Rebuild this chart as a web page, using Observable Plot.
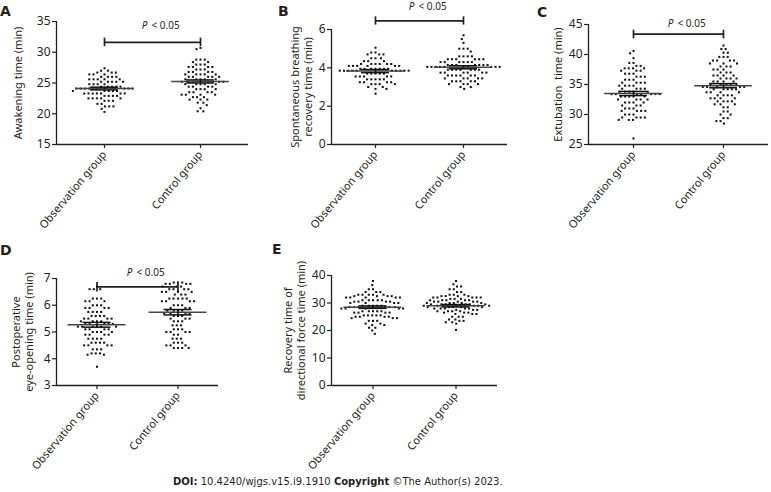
<!DOCTYPE html>
<html><head><meta charset="utf-8">
<script src="https://cdn.jsdelivr.net/npm/d3@7"></script>
<script src="https://cdn.jsdelivr.net/npm/@observablehq/plot@0.6"></script>
<style>
body{margin:0;background:#fff;}
#root{position:relative;width:771px;height:492px;overflow:hidden;background:#fff;font-family:"Noto Sans",sans-serif;}
.panel{position:absolute;}
.letter{position:absolute;font:bold 14px "DejaVu Sans",sans-serif;color:#231f20;line-height:1;}
.caption{position:absolute;font:10px "DejaVu Sans",sans-serif;color:#231f20;white-space:nowrap;}
</style></head><body><div id="root"></div>
<script>
const groups = ["Observation group", "Control group"];

// A: Awakening time (min)
const awakeningObs = [27.4, 27.0,27.0, 26.7,26.7,26.7, 26.4,26.4,26.4, 26.0,26.0,26.0,26.0, 25.6,25.6,25.6,25.6,25.6, 25.2,25.2,25.2,25.2,25.2, 24.8,24.8,24.8,24.8, 24.4,24.4,24.4,24.4,24.4, 24.1,24.1,24.1,24.1,24.1,24.1,24.1,24.1,24.1, 23.7,23.7,23.7,23.7,23.7, 23.3,23.3,23.3,23.3,23.3,23.3,23.3, 22.9,22.9,22.9,22.9, 22.5,22.5,22.5,22.5,22.5, 22.1,22.1,22.1, 21.6,21.6, 21.2,21.2,21.2, 20.8, 20.3];
const awakeningCtrl = [30.7, 30.5, 28.8,28.8,28.8, 28.4,28.4, 28.0,28.0,28.0, 27.6,27.6,27.6,27.6, 27.2,27.2,27.2, 26.8,26.8,26.8,26.8, 26.4,26.4,26.4,26.4,26.4, 26.0,26.0,26.0,26.0,26.0, 25.6,25.6,25.6,25.6,25.6, 25.2,25.2,25.2,25.2,25.2,25.2,25.2, 24.8,24.8,24.8,24.8,24.8, 24.4,24.4,24.4,24.4, 24.0,24.0,24.0,24.0, 23.5,23.5,23.5,23.5, 23.1,23.1,23.1,23.1, 22.7,22.7,22.7, 22.3,22.3,22.3, 21.8,21.8, 21.4, 20.9, 20.4,20.4];
const awakeningMean = [24.1, 25.25];
const awakeningSem = [0.22, 0.25];

// B: Spontaneous breathing recovery time (min)
const breathingObs = [5.05, 4.8,4.8, 4.7,4.7,4.7, 4.5,4.5,4.5, 4.35,4.35,4.35, 4.2,4.2,4.2,4.2,4.2,4.2, 4.1,4.1,4.1,4.1,4.1,4.1, 3.95,3.95,3.95,3.95,3.95,3.95,3.95, 3.85,3.85,3.85,3.85,3.85,3.85,3.85,3.85,3.85,3.85, 3.7,3.7,3.7,3.7,3.7, 3.55,3.55,3.55,3.55,3.55, 3.4,3.4,3.4,3.4,3.4, 3.25,3.25,3.25,3.25, 3.15,3.15,3.15,3.15, 3.0,3.0, 2.9,2.9, 2.65];
const breathingCtrl = [5.7, 5.5, 5.3, 5.0,5.0,5.0, 4.85, 4.6,4.6,4.6,4.6, 4.45,4.45,4.45,4.45,4.45,4.45, 4.3,4.3,4.3,4.3,4.3,4.3, 4.15,4.15,4.15,4.15,4.15,4.15,4.15, 4.05,4.05,4.05,4.05,4.05,4.05,4.05,4.05,4.05,4.05, 3.9,3.9,3.9,3.9,3.9,3.9,3.9, 3.75,3.75,3.75,3.75,3.75,3.75, 3.6,3.6,3.6,3.6,3.6,3.6, 3.45,3.45,3.45,3.45,3.45, 3.3,3.3,3.3,3.3,3.3, 3.15,3.15,3.15,3.15, 3.0,3.0, 2.9];
const breathingMean = [3.83, 4.03];
const breathingSem = [0.08, 0.08];

// C: Extubation time (min)
const extubationObs = [40.6, 40.2, 39.4, 38.6,38.6, 38.1,38.1, 37.7,37.7,37.7,37.7, 37.3,37.3,37.3, 36.8,36.8,36.8, 36.3,36.3,36.3, 35.8,35.8,35.8, 35.3,35.3,35.3,35.3, 34.8,34.8,34.8,34.8, 34.3,34.3,34.3,34.3, 33.8,33.8,33.8,33.8,33.8, 33.4,33.4,33.4,33.4,33.4,33.4,33.4, 33.0,33.0,33.0,33.0,33.0, 32.5,32.5,32.5,32.5, 32.0,32.0,32.0,32.0, 31.5,31.5,31.5, 31.0,31.0,31.0, 30.6,30.6,30.6,30.6, 30.0,30.0,30.0, 29.5,29.5,29.5,29.5, 29.1,29.1,29.1, 26.0];
const extubationCtrl = [41.5, 40.9,40.9, 40.3,40.3, 39.6,39.6,39.6, 39.0,39.0,39.0,39.0, 38.5,38.5,38.5, 38.0,38.0,38.0, 37.5,37.5,37.5, 37.0,37.0,37.0, 36.5,36.5,36.5,36.5, 36.0,36.0,36.0,36.0, 35.5,35.5,35.5,35.5, 35.0,35.0,35.0,35.0,35.0, 34.6,34.6,34.6,34.6,34.6, 34.2,34.2,34.2,34.2,34.2, 33.7,33.7,33.7,33.7, 33.2,33.2,33.2,33.2, 32.7,32.7,32.7,32.7, 32.2,32.2,32.2,32.2, 31.7,31.7,31.7, 31.2,31.2, 30.5,30.5, 30.0,30.0, 29.4,29.4, 28.9,28.9, 28.5];
const extubationMean = [33.5, 34.8];
const extubationSem = [0.35, 0.35];

// D: Postoperative eye-opening time (min)
const eyeObs = [6.7, 6.6,6.6,6.6, 6.25,6.25,6.25, 6.15,6.15,6.15, 6.0,6.0,6.0, 5.9,5.9,5.9,5.9, 5.75,5.75,5.75,5.75, 5.6,5.6,5.6,5.6, 5.5,5.5,5.5,5.5, 5.4,5.4,5.4,5.4, 5.3,5.3,5.3,5.3,5.3, 5.2,5.2,5.2,5.2,5.2,5.2, 5.1,5.1,5.1,5.1, 5.0,5.0,5.0,5.0, 4.9,4.9,4.9,4.9, 4.75,4.75,4.75,4.75, 4.6,4.6,4.6,4.6, 4.5,4.5,4.5,4.5, 4.35,4.35,4.35, 4.2,4.2,4.2, 4.15,4.15, 3.7];
const eyeCtrl = [6.85,6.85,6.85, 6.8,6.8,6.8,6.8, 6.7,6.7,6.7, 6.6,6.6,6.6,6.6, 6.5,6.5,6.5,6.5, 6.4,6.4,6.4, 6.25,6.25,6.25,6.25,6.25, 6.15,6.15,6.15,6.15, 6.0,6.0,6.0, 5.9,5.9,5.9, 5.8,5.8,5.8,5.8, 5.7,5.7,5.7,5.7, 5.6,5.6,5.6, 5.5,5.5,5.5, 5.4,5.4,5.4, 5.25,5.25,5.25, 5.1,5.1,5.1, 5.0,5.0,5.0,5.0, 4.9,4.9, 4.75,4.75,4.75, 4.6,4.6,4.6, 4.5,4.5,4.5, 4.4,4.4,4.4,4.4];
const eyeMean = [5.27, 5.74];
const eyeSem = [0.09, 0.1];

// E: Recovery time of directional force time (min)
const forceObs = [38, 36.5, 35,35, 34,34,34, 33,33,33,33,33, 32.5,32.5,32.5,32.5, 32,32,32,32,32, 31,31,31,31,31, 30.5,30.5,30.5,30.5, 30,30,30,30, 29,29,29,29,29, 28.5,28.5,28.5,28.5,28.5,28.5, 28,28,28,28,28, 27,27,27,27,27, 26.5,26.5,26.5,26.5, 25.5,25.5,25.5,25.5,25.5, 25,25,25,25, 24.5,24.5,24.5, 23.5,23.5,23.5, 22.5,22.5, 22,22, 21,21, 20, 18.8];
const forceCtrl = [38, 36.8, 36,36, 35,35, 34,34, 33,33,33, 32.5,32.5,32.5,32.5, 32,32,32,32,32, 31.5,31.5,31.5, 31,31,31,31,31, 30.5,30.5,30.5,30.5,30.5, 30,30,30,30,30, 29.5,29.5,29.5,29.5,29.5,29.5, 29,29,29,29,29,29, 28.5,28.5,28.5,28.5,28.5, 28,28,28,28,28, 27.5,27.5,27.5, 27,27,27,27, 26.5,26.5,26.5, 26,26,26, 25,25,25, 24,24, 23.5,23.5, 23,23, 22.5, 20.2];
const forceMean = [28.5, 29.0];
const forceSem = [0.45, 0.45];

const ink = "#231f20";
const root = document.getElementById("root");

function makePanel(cfg) {
  const {letter, lx, ly, left, top, width, height, mL, mR, mT, mB, domain, ticks, label, labelOffset, obs, ctrl, mean, sem, bracket} = cfg;
  const rows = [...obs.map(v => ({group: groups[0], value: v})), ...ctrl.map(v => ({group: groups[1], value: v}))];
  const stats = groups.map((g, i) => ({group: g, mean: mean[i], sem: sem[i]}));
  const hb = (width - mL - mR) / 4;
  const marks = [
    Plot.ruleY([domain[0]], {stroke: ink, strokeWidth: 1.3}),
    Plot.ruleX([groups[0]], {fx: d => d, x: -hb, stroke: ink, strokeWidth: 1.3}),
    Plot.axisY({ticks, tickFormat: d => String(d), tickSize: 4, tickPadding: 2, label: null, stroke: ink, fill: ink, strokeWidth: 1.2, fontSize: 12}),
    Plot.text([groups[0]], {fx: d => d, frameAnchor: "left", text: () => label, rotate: -90, lineAnchor: "top", textAnchor: "middle", lineHeight: 1.15, dx: -labelOffset, fill: ink, fontSize: 11}),
    Plot.axisFx({anchor: "bottom", tickRotate: -50, tickSize: 4, tickPadding: 4, label: null, stroke: ink, fill: ink, strokeWidth: 1.2, fontSize: 11}),
    Plot.dot(rows, Plot.dodgeX({anchor: "middle", padding: 1.9}, {fx: "group", y: "value", r: 1.15, symbol: "square", fill: "#111", stroke: null})),
    Plot.ruleY(stats, {fx: "group", y: "mean", x1: -29, x2: 29, stroke: "#444", strokeWidth: 1.5}),
    Plot.ruleY(stats, {fx: "group", y: d => d.mean + d.sem, x1: -14, x2: 14, stroke: "#111", strokeWidth: 1.5}),
    Plot.ruleY(stats, {fx: "group", y: d => d.mean - d.sem, x1: -14, x2: 14, stroke: "#111", strokeWidth: 1.5}),
    Plot.ruleX(stats, {fx: "group", x: 0, y1: d => d.mean - d.sem, y2: d => d.mean + d.sem, stroke: "#111", strokeWidth: 1.5})
  ];
  if (bracket) {
    marks.push(
      Plot.ruleY(groups, {fx: d => d, y: bracket.y, x1: (d, i) => i === 0 ? 0 : -hb, x2: (d, i) => i === 0 ? hb : 0, stroke: ink, strokeWidth: 1.7}),
      Plot.ruleX(groups, {fx: d => d, x: 0, y1: bracket.lo, y2: bracket.hi, stroke: ink, strokeWidth: 1.7}),
      Plot.text([groups[0]], {fx: d => d, x: hb, y: bracket.text, text: () => "P", fontStyle: "italic", textAnchor: "end", dx: -5, fill: ink, fontSize: 10}),
      Plot.text([groups[0]], {fx: d => d, x: hb, y: bracket.text, text: () => "< 0.05", textAnchor: "start", dx: -1, fill: ink, fontSize: 10})
    );
  }
  const svg = Plot.plot({
    width, height,
    marginLeft: mL, marginRight: mR, marginTop: mT, marginBottom: mB,
    fx: {domain: groups, padding: 0},
    x: {domain: [-hb, hb], axis: null},
    y: {domain, nice: false},
    style: {fontFamily: "'Noto Sans', sans-serif", fontSize: "11px", color: ink, background: "transparent", overflow: "visible"},
    marks
  });
  const div = document.createElement("div");
  div.className = "panel";
  div.style.left = left + "px";
  div.style.top = top + "px";
  div.appendChild(svg);
  root.appendChild(div);
  const L = document.createElement("div");
  L.className = "letter";
  L.textContent = letter;
  L.style.left = lx + "px";
  L.style.top = ly + "px";
  root.appendChild(L);
}

makePanel({letter: "A", lx: 0, ly: 4, left: 0, top: 0, width: 250, height: 235, mL: 55, mR: 2, mT: 21, mB: 91,
  domain: [15, 35], ticks: [15, 20, 25, 30, 35], label: "Awakening time (min)", labelOffset: 43,
  obs: awakeningObs, ctrl: awakeningCtrl, mean: awakeningMean, sem: awakeningSem,
  bracket: {y: 31.6, lo: 30.9, hi: 32.3, text: 34.3}});
makePanel({letter: "B", lx: 278, ly: 4, left: 250, top: 0, width: 260, height: 235, mL: 81, mR: 3, mT: 29, mB: 91,
  domain: [0, 6], ticks: [0, 2, 4, 6], label: "Spontaneous breathing\nrecovery time (min)", labelOffset: 41,
  obs: breathingObs, ctrl: breathingCtrl, mean: breathingMean, sem: breathingSem,
  bracket: {y: 6.45, lo: 6.23, hi: 6.66, text: 7.18}});
makePanel({letter: "C", lx: 537, ly: 5, left: 510, top: 0, width: 261, height: 235, mL: 77, mR: 3, mT: 24, mB: 91,
  domain: [25, 45], ticks: [25, 30, 35, 40, 45], label: "Extubation  time (min)", labelOffset: 35,
  obs: extubationObs, ctrl: extubationCtrl, mean: extubationMean, sem: extubationSem,
  bracket: {y: 43.4, lo: 42.6, hi: 44.05, text: 45.17}});
makePanel({letter: "D", lx: 0, ly: 243, left: 0, top: 230, width: 250, height: 250, mL: 56, mR: 32, mT: 48, mB: 95,
  domain: [3, 7], ticks: [3, 4, 5, 6, 7], label: "Postoperative\neye-opening time (min)", labelOffset: 45,
  obs: eyeObs, ctrl: eyeCtrl, mean: eyeMean, sem: eyeSem,
  bracket: {y: 6.69, lo: 6.5, hi: 6.85, text: 7.21}});
makePanel({letter: "E", lx: 272, ly: 242, left: 250, top: 230, width: 260, height: 250, mL: 81, mR: 13, mT: 45, mB: 95,
  domain: [0, 40], ticks: [0, 10, 20, 30, 40], label: "Recovery time of\ndirectional force time (min)", labelOffset: 48,
  obs: forceObs, ctrl: forceCtrl, mean: forceMean, sem: forceSem, bracket: null});

const cap = document.createElement("div");
cap.className = "caption";
cap.style.left = "173px";
cap.style.top = "476px";
cap.innerHTML = "<b>DOI:</b> 10.4240/wjgs.v15.i9.1910 <b>Copyright</b> ©The Author(s) 2023.";
root.appendChild(cap);
</script></body></html>
